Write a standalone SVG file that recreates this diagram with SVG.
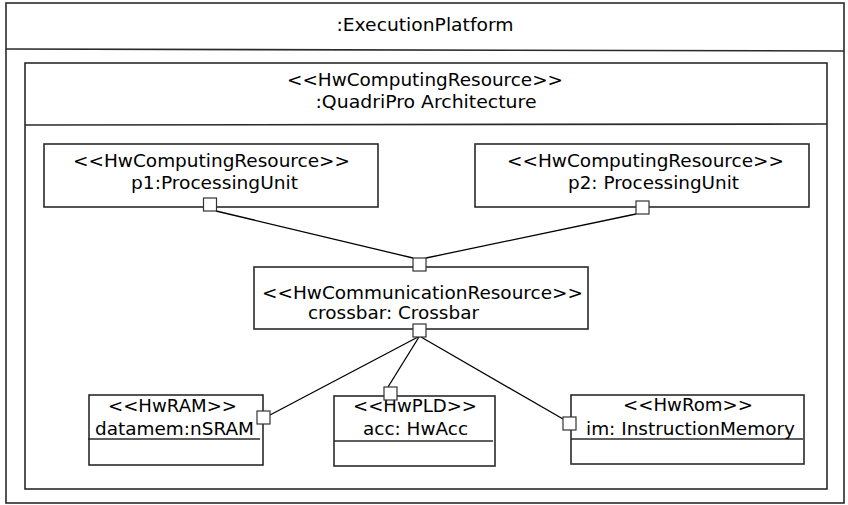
<svg xmlns="http://www.w3.org/2000/svg" width="848" height="505" viewBox="0 0 848 505">
<style>
text { font-family: "DejaVu Sans", "Liberation Sans", sans-serif; font-size: 18px; fill: #000; text-anchor: middle; }
.box { fill: #fff; stroke: #2a2a2a; stroke-width: 1.6; }
.sep { stroke: #2a2a2a; stroke-width: 1.6; fill: none; }
.port { fill: #fff; stroke: #333; stroke-width: 1.2; }
.conn { stroke: #000; stroke-width: 1.3; fill: none; }
</style>
<rect width="848" height="505" fill="#fff"/>
<g id="executionPlatform">
  <rect class="box" x="6" y="3" width="838" height="500"/>
  <line class="sep" x1="6" y1="49" x2="844" y2="51"/>
  <text x="425" y="31" textLength="177" lengthAdjust="spacingAndGlyphs">:ExecutionPlatform</text>
</g>
<g id="quadriPro">
  <rect class="box" x="25" y="63" width="802" height="426"/>
  <line class="sep" x1="25" y1="125" x2="827" y2="124"/>
  <text x="425" y="86" textLength="276" lengthAdjust="spacingAndGlyphs">&lt;&lt;HwComputingResource&gt;&gt;</text>
  <text x="426" y="108" textLength="221" lengthAdjust="spacingAndGlyphs">:QuadriPro Architecture</text>
</g>
<g id="connectors">
  <line class="conn" x1="216" y1="211" x2="413" y2="258"/>
  <line class="conn" x1="636" y1="214" x2="426" y2="258"/>
  <line class="conn" x1="270" y1="415" x2="418" y2="337"/>
  <line class="conn" x1="388" y1="387" x2="419" y2="337"/>
  <line class="conn" x1="563" y1="419" x2="421" y2="337"/>
</g>
<g id="p1">
  <rect class="box" x="44" y="144" width="334" height="63"/>
  <text x="211.5" y="167" textLength="277" lengthAdjust="spacingAndGlyphs">&lt;&lt;HwComputingResource&gt;&gt;</text>
  <text x="214.5" y="189" textLength="167" lengthAdjust="spacingAndGlyphs">p1:ProcessingUnit</text>
  <rect class="port" x="203.5" y="198" width="13" height="13"/>
</g>
<g id="p2">
  <rect class="box" x="475" y="144" width="334" height="63"/>
  <text x="645.5" y="167" textLength="277" lengthAdjust="spacingAndGlyphs">&lt;&lt;HwComputingResource&gt;&gt;</text>
  <text x="653.5" y="189" textLength="171" lengthAdjust="spacingAndGlyphs">p2: ProcessingUnit</text>
  <rect class="port" x="636" y="201" width="13" height="13"/>
</g>
<g id="crossbar">
  <rect class="box" x="254" y="267" width="334" height="62"/>
  <text x="422.5" y="299" textLength="321" lengthAdjust="spacingAndGlyphs">&lt;&lt;HwCommunicationResource&gt;&gt;</text>
  <text x="393.5" y="319" textLength="171" lengthAdjust="spacingAndGlyphs">crossbar: Crossbar</text>
  <rect class="port" x="413" y="258" width="13" height="13"/>
  <rect class="port" x="413" y="324" width="13" height="13"/>
</g>
<g id="datamem">
  <rect class="box" x="89" y="395" width="174" height="70"/>
  <line class="sep" x1="88" y1="439" x2="260" y2="439"/>
  <text x="172.5" y="412" textLength="129" lengthAdjust="spacingAndGlyphs">&lt;&lt;HwRAM&gt;&gt;</text>
  <text x="174.5" y="435" textLength="159" lengthAdjust="spacingAndGlyphs">datamem:nSRAM</text>
  <rect class="port" x="257" y="411" width="13" height="13"/>
</g>
<g id="acc">
  <rect class="box" x="334" y="396" width="161" height="70"/>
  <line class="sep" x1="334" y1="441" x2="493" y2="441"/>
  <text x="415" y="412" textLength="124" lengthAdjust="spacingAndGlyphs">&lt;&lt;HwPLD&gt;&gt;</text>
  <text x="415.5" y="435" textLength="105" lengthAdjust="spacingAndGlyphs">acc: HwAcc</text>
  <rect class="port" x="384" y="387" width="13" height="13"/>
</g>
<g id="im">
  <rect class="box" x="571" y="395" width="233" height="69"/>
  <line class="sep" x1="571" y1="439" x2="803" y2="439"/>
  <text x="688" y="411" textLength="130" lengthAdjust="spacingAndGlyphs">&lt;&lt;HwRom&gt;&gt;</text>
  <text x="690.5" y="435" textLength="209" lengthAdjust="spacingAndGlyphs">im: InstructionMemory</text>
  <rect class="port" x="563" y="417" width="13" height="13"/>
</g>
</svg>
